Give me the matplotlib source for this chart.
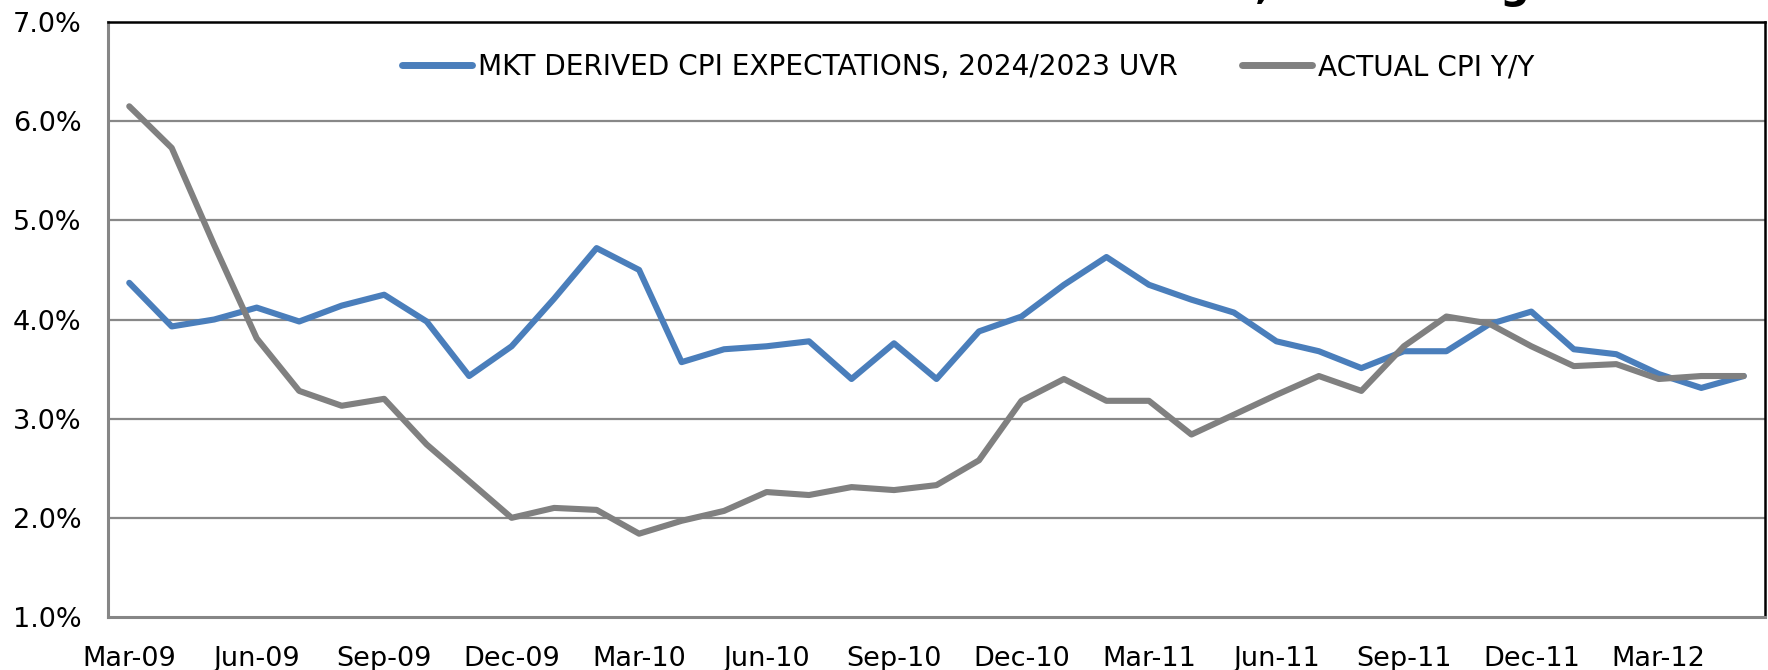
import matplotlib
matplotlib.use("Agg")
import matplotlib.pyplot as plt

months = ["Mar-09", "Apr-09", "May-09", "Jun-09", "Jul-09", "Aug-09", "Sep-09", "Oct-09",
          "Nov-09", "Dec-09", "Jan-10", "Feb-10", "Mar-10", "Apr-10", "May-10", "Jun-10",
          "Jul-10", "Aug-10", "Sep-10", "Oct-10", "Nov-10", "Dec-10", "Jan-11", "Feb-11",
          "Mar-11", "Apr-11", "May-11", "Jun-11", "Jul-11", "Aug-11", "Sep-11", "Oct-11",
          "Nov-11", "Dec-11", "Jan-12", "Feb-12", "Mar-12", "Apr-12", "May-12"]

mkt_expectations = [4.37, 3.93, 4.00, 4.12, 3.98, 4.14, 4.25, 3.98, 3.43, 3.73,
                    4.21, 4.72, 4.50, 3.57, 3.70, 3.73, 3.78, 3.40, 3.76, 3.40,
                    3.88, 4.03, 4.35, 4.63, 4.35, 4.20, 4.07, 3.78, 3.68, 3.51,
                    3.68, 3.68, 3.95, 4.08, 3.70, 3.65, 3.45, 3.31, 3.43]

actual_cpi = [6.15, 5.73, 4.75, 3.81, 3.28, 3.13, 3.20, 2.74, 2.37, 2.00,
              2.10, 2.08, 1.84, 1.97, 2.07, 2.26, 2.23, 2.31, 2.28, 2.33,
              2.58, 3.18, 3.40, 3.18, 3.18, 2.84, 3.04, 3.24, 3.43, 3.28,
              3.73, 4.03, 3.96, 3.73, 3.53, 3.55, 3.40, 3.43, 3.43]

label_mkt = "MKT DERIVED CPI EXPECTATIONS, 2024/2023 UVR"
label_cpi = "ACTUAL CPI Y/Y"
y_ticks = [1, 2, 3, 4, 5, 6, 7]
title_text = "Colombian Inflation Breakevens, Narrowing"

W, H = 1768, 670
fig = plt.figure(figsize=(W / 100, H / 100), dpi=100)
ax = fig.add_axes([108 / W, 1 - 617 / H, (1765 - 108) / W, (617 - 22) / H])

x = list(range(len(months)))
ax.plot(x, mkt_expectations, color="#4A7EBB", lw=4.4, solid_capstyle="round",
        solid_joinstyle="round", label=label_mkt, zorder=3)
ax.plot(x, actual_cpi, color="#808080", lw=4.4, solid_capstyle="round",
        solid_joinstyle="round", label=label_cpi, zorder=3)

ax.set_xlim(-0.5, len(months) - 0.5)
ax.set_ylim(1, 7)
ax.set_yticks(y_ticks)
ax.set_yticklabels([f"{v:.1f}%" for v in y_ticks])
ax.set_xticks(x[::3])
ax.set_xticklabels(months[::3])
ax.tick_params(axis="both", length=0, labelsize=19.5, colors="black")
ax.tick_params(axis="y", pad=19)
ax.tick_params(axis="x", pad=21)

for v in y_ticks[1:-1]:
    ax.axhline(v, color="#888888", lw=1.6, zorder=1)

for s in ["top", "right"]:
    ax.spines[s].set_color("black")
    ax.spines[s].set_linewidth(1.8)
for s in ["left", "bottom"]:
    ax.spines[s].set_color("#868686")
    ax.spines[s].set_linewidth(2.2)

leg = ax.legend(loc="center left", bbox_to_anchor=(402 / W, 1 - 67 / H),
                bbox_transform=fig.transFigure, ncol=2, frameon=False,
                fontsize=20.2, handlelength=2.5, handletextpad=0.2,
                columnspacing=2.3, borderpad=0, borderaxespad=0)
for line in leg.get_lines():
    line.set_linewidth(5)
    line.set_solid_capstyle("round")

fig.text(1530 / W, 1 + 2 / H, title_text, ha="right", va="baseline",
         fontsize=30, fontweight="bold", color="black")

fig.savefig("out.png", dpi=100)
